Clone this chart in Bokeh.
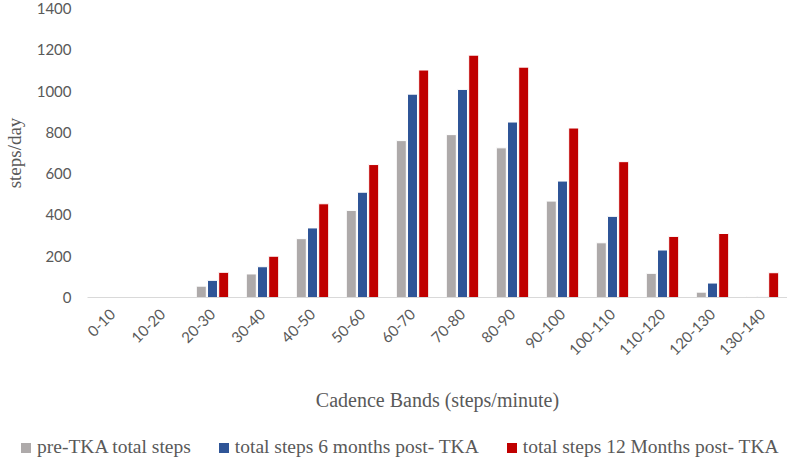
import math
from bokeh.plotting import figure
from bokeh.layouts import column
from bokeh.models import FactorRange, Range1d, FixedTicker, ColumnDataSource, Div
from bokeh.transform import dodge
from bokeh.embed import file_html
from bokeh.resources import INLINE

bands = ["0-10", "10-20", "20-30", "30-40", "40-50", "50-60", "60-70", "70-80",
         "80-90", "90-100", "100-110", "110-120", "120-130", "130-140"]
pre_tka = [0, 0, 55, 114, 285, 422, 760, 789, 725, 467, 265, 117, 26, 5]
post_6m = [0, 0, 83, 149, 337, 510, 985, 1008, 850, 564, 393, 230, 70, 5]
post_12m = [0, 0, 122, 200, 454, 644, 1102, 1174, 1116, 821, 658, 296, 310, 120]
series_labels = ["pre-TKA total steps", "total steps 6 months post- TKA",
                 "total steps 12 Months post- TKA"]
series_colors = ["#AEAAAA", "#2F5597", "#C00000"]
y_ticks = [0, 200, 400, 600, 800, 1000, 1200, 1400]

source = ColumnDataSource(dict(band=bands, pre=pre_tka, m6=post_6m, m12=post_12m))

p = figure(width=787, height=425, output_backend="svg", toolbar_location=None,
           x_range=FactorRange(factors=bands, range_padding=0),
           y_range=Range1d(0, 1400),
           min_border_left=87, min_border_right=0, min_border_top=8, min_border_bottom=128)
p.outline_line_color = None
p.grid.visible = False
p.background_fill_color = "white"
p.border_fill_color = "white"

for field, off, col in zip(["pre", "m6", "m12"], [-0.224, 0.0, 0.224], series_colors):
    p.vbar(x=dodge("band", off, range=p.x_range), top=field, width=0.2,
           source=source, fill_color=col, line_color="white", line_width=1)

label_color = "#595959"
# y axis
p.yaxis.ticker = FixedTicker(ticks=y_ticks)
p.yaxis.axis_line_color = None
p.yaxis.major_tick_line_color = None
p.yaxis.minor_tick_line_color = None
p.yaxis.major_tick_out = 0
p.yaxis.major_tick_in = 0
p.yaxis.major_label_text_font = "Lato"
p.yaxis.major_label_text_font_size = "15px"
p.yaxis.major_label_text_color = label_color
p.yaxis.major_label_standoff = 16
p.yaxis.axis_label = "steps/day"
p.yaxis.axis_label_text_font = "Liberation Serif"
p.yaxis.axis_label_text_font_size = "19px"
p.yaxis.axis_label_text_font_style = "normal"
p.yaxis.axis_label_text_color = label_color
p.yaxis.axis_label_standoff = 9

# x axis
p.xaxis.axis_line_color = "#D9D9D9"
p.xaxis.major_tick_line_color = None
p.xaxis.minor_tick_line_color = None
p.xaxis.major_tick_out = 0
p.xaxis.major_tick_in = 0
p.xaxis.major_label_orientation = math.pi / 4
p.xaxis.major_label_text_font = "Lato"
p.xaxis.major_label_text_font_size = "15px"
p.xaxis.major_label_text_color = label_color
p.xaxis.major_label_standoff = 14
p.xaxis.axis_label = "Cadence Bands (steps/minute)"
p.xaxis.axis_label_text_font = "Liberation Serif"
p.xaxis.axis_label_text_font_size = "20px"
p.xaxis.axis_label_text_font_style = "normal"
p.xaxis.axis_label_text_color = label_color
p.xaxis.axis_label_standoff = 26

# legend as a strip of HTML text below the chart
items_html = []
for i, (lab, col) in enumerate(zip(series_labels, series_colors)):
    gap = "" if i == 0 else '<span style="display:inline-block;width:28px"></span>'
    items_html.append(
        gap
        + f'<span style="display:inline-block;width:10px;height:10px;background:{col};'
        f'margin-right:6px;vertical-align:0px"></span>{lab}'
    )
legend_html = (
    '<div style="white-space:nowrap;font-family:\'Liberation Serif\';font-size:19.5px;'
    f'color:{label_color};line-height:22px;padding-left:21px;padding-top:11px">'
    + "".join(items_html) + "</div>"
)
legend_div = Div(text=legend_html, width=787, height=33, margin=0)

layout = column(p, legend_div, spacing=0)
open("out.html", "w").write(file_html(layout, INLINE))
